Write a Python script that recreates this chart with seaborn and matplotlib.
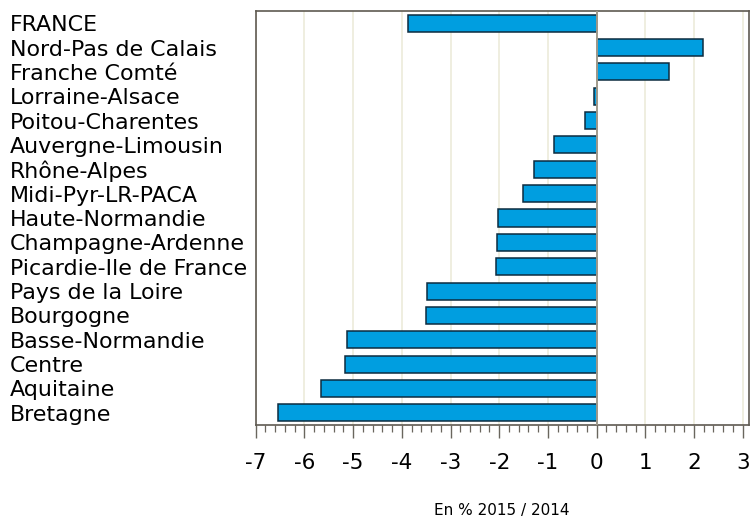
import matplotlib
matplotlib.use("Agg")
import matplotlib.pyplot as plt
from matplotlib.ticker import MultipleLocator
import seaborn as sns
import pandas as pd

regions = ["FRANCE", "Nord-Pas de Calais", "Franche Comté", "Lorraine-Alsace",
           "Poitou-Charentes", "Auvergne-Limousin", "Rhône-Alpes", "Midi-Pyr-LR-PACA",
           "Haute-Normandie", "Champagne-Ardenne", "Picardie-Ile de France",
           "Pays de la Loire", "Bourgogne", "Basse-Normandie", "Centre",
           "Aquitaine", "Bretagne"]
values = [-3.87, 2.18, 1.49, -0.05, -0.24, -0.88, -1.29, -1.51, -2.03, -2.05, -2.06,
          -3.49, -3.50, -5.13, -5.16, -5.66, -6.54]
x_ticks = [-7, -6, -5, -4, -3, -2, -1, 0, 1, 2, 3]
x_label = "En % 2015 / 2014"

df = pd.DataFrame({"region": regions, "value": values})

sns.set_style("white")
plt.rcParams['font.family'] = ['DejaVu Sans']
plt.rcParams['text.color'] = 'black'

fig = plt.figure(figsize=(7.5, 5.17), dpi=100)
ax = fig.add_axes([0.341, 0.178, 0.657, 0.8007])

for t in x_ticks:
    ax.axvline(t, color="#efeee0", lw=1.4, zorder=0)

sns.barplot(data=df, x="value", y="region", orient="h", color="#009EE0",
            edgecolor="#0d2c40", linewidth=1.1, width=0.7, saturation=1, ax=ax, zorder=2)
ax.axvline(0, color="#a09a8c", lw=1.4, zorder=3)

ax.set_xlim(-7, 3.12)
ax.set_ylim(16.5, -0.5)
ax.set_xticks(x_ticks)
ax.set_xticklabels([str(t) for t in x_ticks])
ax.xaxis.set_minor_locator(MultipleLocator(0.2))
ax.tick_params(axis="x", which="major", direction="out", length=9.4, width=1.0,
               color="#6a665e", labelsize=15.5, pad=11, bottom=True, labelcolor="black")
ax.tick_params(axis="x", which="minor", direction="out", length=5, width=0.9,
               color="#6a665e", bottom=True)
ax.tick_params(axis="y", length=0, labelsize=15.9, pad=177, labelcolor="black")
for lab in ax.get_yticklabels():
    lab.set_horizontalalignment("left")
ax.set_ylabel("")
ax.set_xlabel("")
fig.text(0.669, 2.0 / 517, x_label, fontsize=11, ha="center", va="baseline", color="black")
for s in ax.spines.values():
    s.set_visible(True)
    s.set_color("#5f5a52")
    s.set_linewidth(1.2)

fig.savefig("out.png", dpi=100)
